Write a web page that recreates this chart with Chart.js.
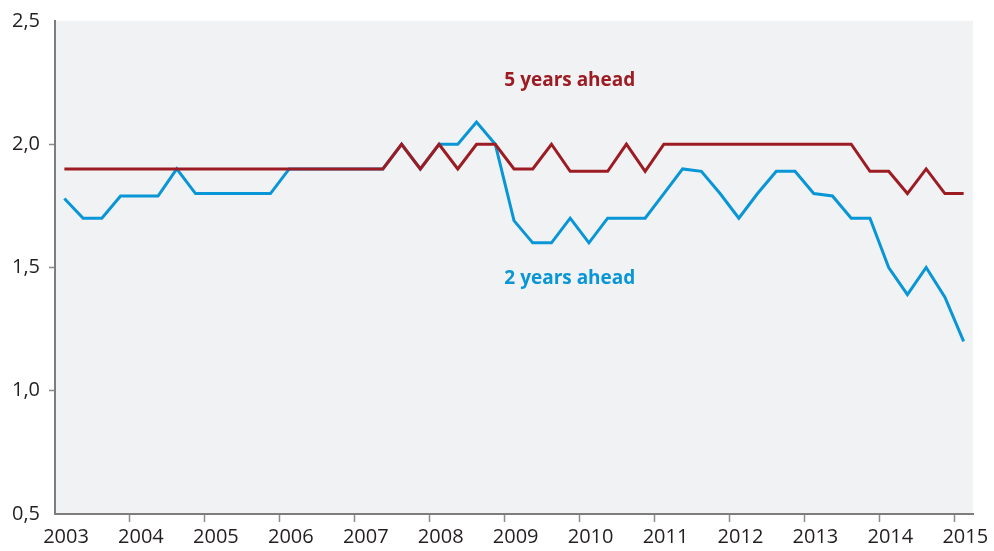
<!DOCTYPE html>
<html>
<head>
<meta charset="utf-8">
<script src="https://cdn.jsdelivr.net/npm/chart.js@4/dist/chart.umd.min.js"></script>
<style>
  html, body { margin: 0; padding: 0; background: #ffffff; }
  #wrap { width: 994px; height: 551px; }
</style>
</head>
<body>
<div id="wrap"><canvas id="c" width="994" height="551"></canvas></div>
<script>
// Quarterly categories (2003 Q1 – 2015 Q1)
const quarters = [
  '2003Q1','2003Q2','2003Q3','2003Q4','2004Q1','2004Q2','2004Q3','2004Q4',
  '2005Q1','2005Q2','2005Q3','2005Q4','2006Q1','2006Q2','2006Q3','2006Q4',
  '2007Q1','2007Q2','2007Q3','2007Q4','2008Q1','2008Q2','2008Q3','2008Q4',
  '2009Q1','2009Q2','2009Q3','2009Q4','2010Q1','2010Q2','2010Q3','2010Q4',
  '2011Q1','2011Q2','2011Q3','2011Q4','2012Q1','2012Q2','2012Q3','2012Q4',
  '2013Q1','2013Q2','2013Q3','2013Q4','2014Q1','2014Q2','2014Q3','2014Q4',
  '2015Q1'
];

// 5 years ahead
const fiveYears = [
  1.9, 1.9, 1.9, 1.9, 1.9, 1.9, 1.9, 1.9,
  1.9, 1.9, 1.9, 1.9, 1.9, 1.9, 1.9, 1.9,
  1.9, 1.9, 2.0, 1.9, 2.0, 1.9, 2.0, 2.0,
  1.9, 1.9, 2.0, 1.89, 1.89, 1.89, 2.0, 1.89,
  2.0, 2.0, 2.0, 2.0, 2.0, 2.0, 2.0, 2.0,
  2.0, 2.0, 2.0, 1.89, 1.89, 1.8, 1.9, 1.8,
  1.8
];

// 2 years ahead
const twoYears = [
  1.78, 1.7, 1.7, 1.79, 1.79, 1.79, 1.9, 1.8,
  1.8, 1.8, 1.8, 1.8, 1.9, 1.9, 1.9, 1.9,
  1.9, 1.9, 2.0, 1.9, 2.0, 2.0, 2.09, 2.0,
  1.69, 1.6, 1.6, 1.7, 1.6, 1.7, 1.7, 1.7,
  1.8, 1.9, 1.89, 1.8, 1.7, 1.8, 1.89, 1.89,
  1.8, 1.79, 1.7, 1.7, 1.5, 1.39, 1.5, 1.38,
  1.2
];

const yearTicks = [2003, 2004, 2005, 2006, 2007, 2008, 2009, 2010, 2011, 2012, 2013, 2014, 2015];
const yTickValues = [0.5, 1.0, 1.5, 2.0, 2.5];
const yTickLabels = ['0,5', '1,0', '1,5', '2,0', '2,5'];

const seriesNames = ['5 years ahead', '2 years ahead'];
const RED = '#9d1c23';
const BLUE = '#0896d6';

// quarter label -> position at middle of quarter on a continuous year axis
function quarterToX(q) {
  const y = parseInt(q.slice(0, 4), 10);
  const n = parseInt(q.slice(5), 10);
  return y + (n - 0.5) / 4;
}
const toPoints = vals => vals.map((v, i) => ({ x: quarterToX(quarters[i]), y: v }));

const bgPlugin = {
  id: 'plotBg',
  beforeDraw(chart) {
    const { ctx, chartArea: a } = chart;
    ctx.save();
    ctx.fillStyle = '#f1f2f4';
    ctx.fillRect(a.left, a.top, a.right - a.left, a.bottom - a.top);
    ctx.restore();
  }
};

const labelPlugin = {
  id: 'seriesLabels',
  afterDatasetsDraw(chart) {
    const { ctx, scales } = chart;
    const items = [
      { text: seriesNames[0], color: RED, x: 2009.87, y: 2.26 },
      { text: seriesNames[1], color: BLUE, x: 2009.87, y: 1.455 }
    ];
    ctx.save();
    ctx.font = 'bold 19px "Open Sans", sans-serif';
    ctx.textAlign = 'center';
    ctx.textBaseline = 'middle';
    items.forEach(it => {
      ctx.fillStyle = it.color;
      ctx.fillText(it.text, scales.x.getPixelForValue(it.x), scales.y.getPixelForValue(it.y));
    });
    ctx.restore();
  }
};

new Chart(document.getElementById('c'), {
  type: 'line',
  data: {
    datasets: [
      {
        label: seriesNames[0],
        data: toPoints(fiveYears),
        borderColor: RED,
        borderWidth: 3,
        pointRadius: 0,
        tension: 0,
        fill: false
      },
      {
        label: seriesNames[1],
        data: toPoints(twoYears),
        borderColor: BLUE,
        borderWidth: 3,
        pointRadius: 0,
        tension: 0,
        fill: false
      }
    ]
  },
  options: {
    responsive: false,
    devicePixelRatio: 1,
    animation: false,
    layout: { padding: { top: 20, right: 21, left: 0, bottom: 0 } },
    plugins: {
      legend: { display: false },
      tooltip: { enabled: false }
    },
    scales: {
      x: {
        type: 'linear',
        min: 2003,
        max: 2015.25,
        afterBuildTicks(s) { s.ticks = yearTicks.map(v => ({ value: v })); },
        afterFit(s) { s.height = 37; s.paddingLeft = 0; s.paddingRight = 0; },
        grid: {
          drawOnChartArea: false,
          drawTicks: true,
          tickLength: 8,
          tickWidth: 1.5,
          tickColor: c => (c.tick && c.tick.value === 2003) ? 'rgba(0,0,0,0)' : '#8a8a8a'
        },
        border: { display: true, color: '#7d7d7d', width: 2 },
        ticks: {
          autoSkip: false,
          maxRotation: 0,
          labelOffset: 11,
          padding: 3,
          color: '#231f20',
          font: { family: '"Open Sans", sans-serif', size: 20 },
          callback: v => String(v)
        }
      },
      y: {
        type: 'linear',
        min: 0.5,
        max: 2.5,
        afterBuildTicks(s) { s.ticks = yTickValues.map(v => ({ value: v })); },
        afterFit(s) { s.width = 55; },
        grid: {
          drawOnChartArea: false,
          drawTicks: true,
          tickLength: 6,
          tickWidth: 1.5,
          tickColor: c => (c.tick && (c.tick.value === 0.5 || c.tick.value === 2.5)) ? 'rgba(0,0,0,0)' : '#8a8a8a'
        },
        border: { display: true, color: '#7d7d7d', width: 2 },
        ticks: {
          padding: 9,
          color: '#231f20',
          font: { family: '"Open Sans", sans-serif', size: 20 },
          callback: (v) => yTickLabels[yTickValues.indexOf(v)]
        }
      }
    }
  },
  plugins: [bgPlugin, labelPlugin]
});
</script>
</body>
</html>
